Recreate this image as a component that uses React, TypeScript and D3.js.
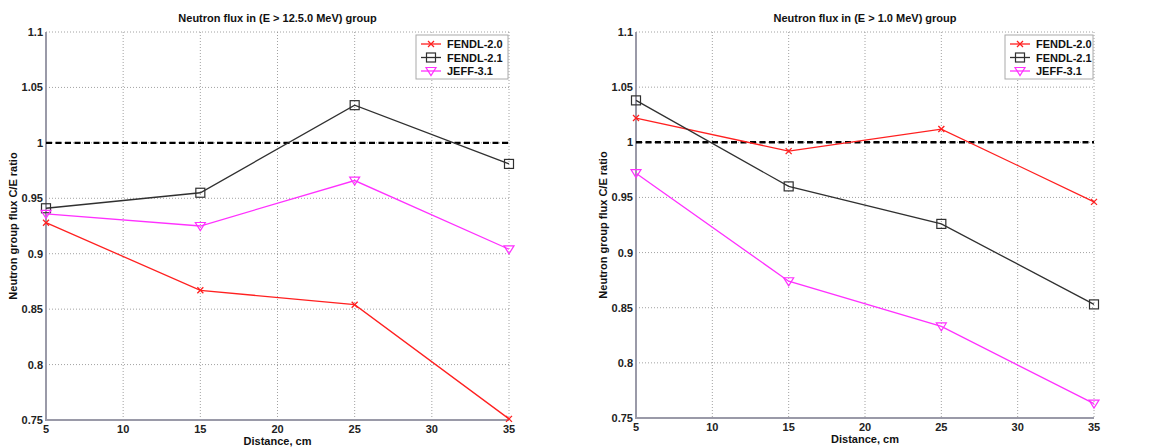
import React from "react";
import * as d3 from "d3";

// Distances (cm) at which the C/E ratios are given
const distances = [5, 15, 25, 35];

// Panel 1: E > 12.5.0 MeV group
const fast_fendl20 = [0.928, 0.867, 0.854, 0.751];
const fast_fendl21 = [0.941, 0.955, 1.034, 0.981];
const fast_jeff31 = [0.936, 0.925, 0.966, 0.904];

// Panel 2: E > 1.0 MeV group
const mev_fendl20 = [1.022, 0.992, 1.012, 0.946];
const mev_fendl21 = [1.038, 0.960, 0.926, 0.853];
const mev_jeff31 = [0.972, 0.874, 0.833, 0.763];

const xTicks = [5, 10, 15, 20, 25, 30, 35];
const yTicks = [0.75, 0.8, 0.85, 0.9, 0.95, 1, 1.05, 1.1];
const seriesNames = ["FENDL-2.0", "FENDL-2.1", "JEFF-3.1"];
const seriesColors = ["#ff2020", "#303030", "#ff30ff"];

const FONT = "Arial, 'Liberation Sans', sans-serif";

type PanelProps = {
  title: string;
  left: number;
  right: number;
  top: number;
  bottom: number;
  legendLeft: number;
  values: number[][];
};

function Marker({ kind, x, y, color }: { kind: number; x: number; y: number; color: string }) {
  if (kind === 0) {
    const s = 3;
    return (
      <g stroke={color} strokeWidth={1.3}>
        <line x1={x - s} y1={y - s} x2={x + s} y2={y + s} />
        <line x1={x - s} y1={y + s} x2={x + s} y2={y - s} />
      </g>
    );
  }
  if (kind === 1) {
    const s = 4.5;
    return <rect x={x - s} y={y - s} width={2 * s} height={2 * s} fill="none" stroke={color} strokeWidth={1.2} />;
  }
  const s = 5;
  return (
    <path
      d={`M${x - s},${y - s * 0.7}L${x + s},${y - s * 0.7}L${x},${y + s * 0.9}Z`}
      fill="none"
      stroke={color}
      strokeWidth={1.2}
    />
  );
}

function Panel({ title, left, right, top, bottom, legendLeft, values }: PanelProps) {
  const x = d3.scaleLinear().domain([5, 35]).range([left, right]);
  const y = d3.scaleLinear().domain([0.75, 1.1]).range([bottom, top]);
  const line = d3
    .line<number>()
    .x((_, i) => x(distances[i]))
    .y((v) => y(v));
  const cx = (left + right) / 2;
  const legendRight = right - 1;
  const legendTop = top + 3;
  return (
    <g fontFamily={FONT}>
      {/* grid */}
      {xTicks.slice(1).map((t) => (
        <line key={"gx" + t} x1={x(t)} x2={x(t)} y1={top} y2={bottom} stroke="#8a8a8a" strokeWidth={0.8} strokeDasharray="1,2" />
      ))}
      {yTicks.slice(1).map((t) => (
        <line key={"gy" + t} x1={left} x2={right} y1={y(t)} y2={y(t)} stroke="#8a8a8a" strokeWidth={0.8} strokeDasharray="1,2" />
      ))}
      {/* axes */}
      <line x1={left} x2={left} y1={top} y2={bottom + 1} stroke="#9a9aa8" strokeWidth={2} />
      <line x1={left - 1} x2={right} y1={bottom} y2={bottom} stroke="#9a9aa8" strokeWidth={2} />
      {/* reference line */}
      <line x1={left} x2={right} y1={y(1)} y2={y(1)} stroke="#000" strokeWidth={2.4} strokeDasharray="6,3.5" />
      {/* series */}
      {values.map((vals, k) => (
        <g key={k}>
          <path d={line(vals) || ""} fill="none" stroke={seriesColors[k]} strokeWidth={1.3} />
          {vals.map((v, i) => (
            <Marker key={i} kind={k} x={x(distances[i])} y={y(v)} color={seriesColors[k]} />
          ))}
        </g>
      ))}
      {/* tick labels */}
      {yTicks.map((t) => (
        <text key={"ty" + t} x={left - 3} y={y(t) + 4} textAnchor="end" fontSize={11} fontWeight="bold" fill="#222">
          {String(t)}
        </text>
      ))}
      {xTicks.map((t) => (
        <text key={"tx" + t} x={x(t)} y={bottom + 13} textAnchor="middle" fontSize={11} fontWeight="bold" fill="#222">
          {String(t)}
        </text>
      ))}
      <text x={cx} y={bottom + 25} textAnchor="middle" fontSize={11} fontWeight="bold" fill="#111">
        Distance, cm
      </text>
      <text
        transform={`translate(${left - 29},${(top + bottom) / 2}) rotate(-90)`}
        textAnchor="middle"
        fontSize={11}
        fontWeight="bold"
        fill="#111"
      >
        Neutron group flux C/E ratio
      </text>
      <text x={cx} y={top - 10} textAnchor="middle" fontSize={11} fontWeight="bold" fill="#111">
        {title}
      </text>
      {/* legend */}
      <rect x={legendLeft} y={legendTop} width={legendRight - legendLeft} height={44} fill="#fff" stroke="#aaa" strokeWidth={1} />
      {seriesNames.map((name, k) => {
        const ly = legendTop + 9 + k * 13.5;
        const lx = legendLeft + 5;
        return (
          <g key={name}>
            <line x1={lx} x2={lx + 20} y1={ly} y2={ly} stroke={seriesColors[k]} strokeWidth={1.3} />
            <Marker kind={k} x={lx + 10} y={ly} color={seriesColors[k]} />
            <text x={lx + 26} y={ly + 4} fontSize={11} fontWeight="bold" fill="#111">
              {name}
            </text>
          </g>
        );
      })}
    </g>
  );
}

export default function App() {
  return (
    <svg width={1157} height={448} style={{ position: "absolute", left: 0, top: 0, background: "#fff" }}>
      <Panel
        title="Neutron flux in (E > 12.5.0 MeV) group"
        left={46}
        right={509}
        top={32}
        bottom={420}
        legendLeft={416}
        values={[fast_fendl20, fast_fendl21, fast_jeff31]}
      />
      <Panel
        title="Neutron flux in (E > 1.0 MeV) group"
        left={636}
        right={1094}
        top={32}
        bottom={418}
        legendLeft={1005}
        values={[mev_fendl20, mev_fendl21, mev_jeff31]}
      />
    </svg>
  );
}
